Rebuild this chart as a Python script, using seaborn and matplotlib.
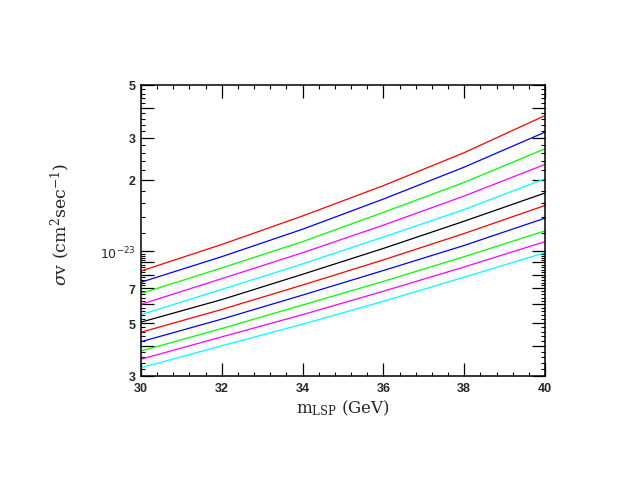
import matplotlib
matplotlib.use("Agg")
import matplotlib.pyplot as plt
import matplotlib.ticker as mticker
import seaborn as sns
import pandas as pd
import numpy as np

# LSP mass (GeV)
m_lsp = [30, 32, 34, 36, 38, 40]

# sigma*v in units of 1e-24 cm^2/sec (top to bottom)
curve_names = ["c01", "c02", "c03", "c04", "c05", "c06", "c07", "c08", "c09", "c10", "c11"]
curve_colors = ["#ff0000", "#0000ff", "#00ff00", "#ff00ff", "#00ffff", "#000000",
                "#ff0000", "#0000ff", "#00ff00", "#ff00ff", "#00ffff"]
sv_c01 = [8.28, 10.7, 14.1, 18.9, 26.0, 37.2]
sv_c02 = [7.43, 9.51, 12.4, 16.6, 22.6, 31.7]
sv_c03 = [6.66, 8.53, 11.0, 14.6, 19.5, 27.0]
sv_c04 = [6.00, 7.69, 9.88, 12.9, 17.1, 23.2]
sv_c05 = [5.43, 6.93, 8.87, 11.5, 15.0, 20.2]
sv_c06 = [5.05, 6.28, 8.02, 10.3, 13.4, 17.6]
sv_c07 = [4.58, 5.71, 7.23, 9.22, 11.9, 15.6]
sv_c08 = [4.18, 5.20, 6.56, 8.32, 10.6, 13.8]
sv_c09 = [3.82, 4.75, 5.96, 7.49, 9.51, 12.2]
sv_c10 = [3.53, 4.38, 5.43, 6.81, 8.61, 11.0]
sv_c11 = [3.25, 4.02, 4.95, 6.18, 7.80, 9.89]
all_sv = [sv_c01, sv_c02, sv_c03, sv_c04, sv_c05, sv_c06,
          sv_c07, sv_c08, sv_c09, sv_c10, sv_c11]

y_major = [3e-24, 4e-24, 5e-24, 6e-24, 7e-24, 8e-24, 9e-24, 1e-23, 2e-23, 3e-23, 4e-23, 5e-23]
y_labels = ["3", "", "5", "", "7", "", "", r"$\mathsf{10^{-23}}$", "2", "3", "", "5"]
x_ticks = [30, 32, 34, 36, 38, 40]

rows = []
for name, vals in zip(curve_names, all_sv):
    for m, v in zip(m_lsp, vals):
        rows.append({"curve": name, "m": m, "sv": v * 1e-24})
df = pd.DataFrame(rows)

sns.set_style("white")
plt.rcParams["font.family"] = ["Liberation Sans", "DejaVu Sans"]
plt.rcParams["mathtext.fontset"] = "dejavuserif"

fig = plt.figure(figsize=(6.27, 4.85), dpi=100)
ax = fig.add_axes([141 / 627, 1 - 377 / 485, 404 / 627, 291 / 485])

sns.lineplot(data=df, x="m", y="sv", hue="curve", palette=curve_colors,
             hue_order=curve_names, linewidth=0.9, legend=False, ax=ax)

ax.set_yscale("log")
ax.set_xlim(30, 40)
ax.set_ylim(3e-24, 5e-23)

ax.xaxis.set_major_locator(mticker.FixedLocator(x_ticks))
ax.xaxis.set_minor_locator(mticker.MultipleLocator(0.4))
ax.yaxis.set_major_locator(mticker.FixedLocator(y_major))
ax.yaxis.set_major_formatter(mticker.FixedFormatter(y_labels))
minors = [k * 2e-25 for k in range(15, 50)] + [k * 2e-24 for k in range(5, 25)]
minors = [v for v in minors if all(abs(v - mj) / mj > 1e-3 for mj in y_major)]
ax.yaxis.set_minor_locator(mticker.FixedLocator(minors))
ax.yaxis.set_minor_formatter(mticker.NullFormatter())

ax.tick_params(which="both", direction="in", top=True, right=True,
               bottom=True, left=True, color="black")
ax.tick_params(which="major", length=9.4, width=0.9, pad=4)
ax.tick_params(which="minor", length=3.2, width=0.8)
for lab in ax.get_xticklabels() + ax.get_yticklabels():
    lab.set_fontweight("bold")
    lab.set_fontsize(9)
for sp in ax.spines.values():
    sp.set_color("black")
    sp.set_linewidth(1.1)

ax.set_xlabel(r"m$_{\rm LSP}$ (GeV)", fontsize=12, family="DejaVu Serif", labelpad=3)
ax.set_ylabel(r"$\sigma$v (cm$^2$sec$^{-1}$)", fontsize=12.5, family="DejaVu Serif")
ax.yaxis.set_label_coords(-0.17, 0.526)

fig.savefig("out.png", dpi=100)
